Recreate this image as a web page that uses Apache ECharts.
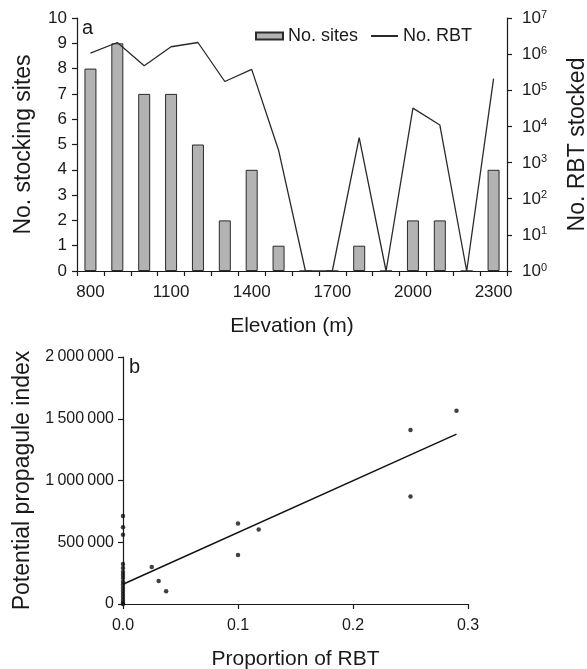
<!DOCTYPE html>
<html>
<head>
<meta charset="utf-8">
<script src="https://cdn.jsdelivr.net/npm/echarts@6/dist/echarts.min.js"></script>
<style>
  html, body { margin: 0; padding: 0; background: #fff; }
  #chart { width: 587px; height: 669px; }
</style>
</head>
<body>
<div id="chart"></div>
<script>
// panel a: stocking by elevation
var elevations = ['800', '900', '1000', '1100', '1200', '1300', '1400', '1500',
                  '1600', '1700', '1800', '1900', '2000', '2100', '2200', '2300'];
var noSites = [8, 9, 7, 7, 5, 2, 4, 1, 0, 0, 1, 0, 2, 2, 0, 4];
// RBT stocked (log axis, zero stocking drawn at 10^0)
var noRBT = [1070000, 2100000, 480000, 1600000, 2100000, 175000, 380000, 2200,
             1, 1, 4900, 1, 32000, 11000, 1, 210000];

// panel b: propagule index vs proportion of RBT
var propRBT = [0, 0, 0, 0, 0, 0, 0, 0, 0, 0, 0, 0, 0, 0, 0, 0, 0,
               0.025, 0.031, 0.0375, 0.1, 0.1, 0.118, 0.25, 0.25, 0.29];
var propIndex = [713000, 622000, 560000, 324000, 292000, 260000, 235000, 210000, 180000,
                 155000, 130000, 105000, 80000, 57000, 32000, 10000, 0,
                 300000, 186000, 103000, 651000, 397000, 603000, 1408000, 870000, 1565000];
var fitX = [0, 0.29];
var fitY = [160000, 1376000];

var font = "'Liberation Sans', Arial, sans-serif";
var ink = '#1a1a1a';

var chart = echarts.init(document.getElementById('chart'));

function axisBase(extra) {
  var base = {
    axisLine: { show: true, lineStyle: { color: ink, width: 1.2 } },
    axisTick: { show: true, inside: false, length: 5, lineStyle: { color: ink, width: 1.2 } },
    axisLabel: { color: ink, fontSize: 17, fontFamily: font, margin: 10 },
    splitLine: { show: false },
    nameTextStyle: { color: ink, fontSize: 23, fontFamily: font }
  };
  return Object.assign(base, extra);
}

var option = {
  animation: false,
  backgroundColor: '#fff',
  textStyle: { fontFamily: font },
  grid: [
    { left: 77, right: 80, top: 18, bottom: 398, outerBoundsMode: 'none' },
    { left: 123, right: 119, top: 357, bottom: 65, outerBoundsMode: 'none' }
  ],
  legend: {
    data: [
      { name: 'No. sites', icon: 'rect' },
      { name: 'No. RBT', itemStyle: { opacity: 0 } }
    ],
    left: 250,
    top: 22,
    itemWidth: 27,
    itemHeight: 7,
    itemGap: 12,
    textStyle: { color: ink, fontSize: 18, fontFamily: font }
  },
  xAxis: [
    axisBase({
      type: 'category',
      gridIndex: 0,
      data: elevations,
      boundaryGap: true,
      axisTick: { show: true, inside: false, length: 5, interval: 0, lineStyle: { color: ink, width: 1.2 } },
      axisLabel: { color: ink, fontSize: 17, fontFamily: font, margin: 13, interval: 2 },
      name: 'Elevation (m)',
      nameLocation: 'middle',
      nameGap: 45,
      nameTextStyle: { color: ink, fontSize: 21, fontFamily: font }
    }),
    axisBase({
      type: 'value',
      gridIndex: 1,
      min: 0,
      max: 0.3,
      interval: 0.1,
      axisLabel: { color: ink, fontSize: 16, fontFamily: font, margin: 14,
        formatter: function (v) { return v.toFixed(1); } },
      name: 'Proportion of RBT',
      nameLocation: 'middle',
      nameGap: 45,
      nameTextStyle: { color: ink, fontSize: 21, fontFamily: font }
    })
  ],
  yAxis: [
    axisBase({
      type: 'value',
      gridIndex: 0,
      position: 'left',
      min: 0,
      max: 10,
      interval: 1,
      name: 'No. stocking sites',
      nameLocation: 'middle',
      nameRotate: 90,
      nameGap: 42
    }),
    axisBase({
      type: 'log',
      gridIndex: 0,
      position: 'right',
      logBase: 10,
      min: 1,
      max: 10000000,
      splitNumber: 7,
      axisLabel: {
        color: ink, fontSize: 17, fontFamily: font, margin: 15,
        formatter: function (v) {
          return '{b|10}{s|' + Math.round(Math.log10(v)) + '}';
        },
        rich: {
          b: { fontSize: 17, fontFamily: font, color: ink, lineHeight: 18, verticalAlign: 'bottom' },
          s: { fontSize: 11, fontFamily: font, color: ink, lineHeight: 18, verticalAlign: 'top', padding: [0, 0, 8, 0] }
        }
      },
      name: 'No. RBT stocked',
      nameLocation: 'middle',
      nameRotate: 90,
      nameGap: 59
    }),
    axisBase({
      type: 'value',
      gridIndex: 1,
      min: 0,
      max: 2000000,
      interval: 500000,
      axisLabel: { color: ink, fontSize: 16, fontFamily: font, margin: 9,
        formatter: function (v) {
          return String(v).replace(/\B(?=(\d{3})+(?!\d))/g, '\u2009');
        } },
      name: 'Potential propagule index',
      nameLocation: 'middle',
      nameRotate: 90,
      nameGap: 88
    })
  ],
  graphic: [
    { type: 'text', left: 82, top: 18, style: { text: 'a', fontSize: 20, fontFamily: font, fill: ink } },
    { type: 'text', left: 129, top: 357, style: { text: 'b', fontSize: 20, fontFamily: font, fill: ink } }
  ],
  series: [
    {
      name: 'No. sites',
      type: 'bar',
      xAxisIndex: 0,
      yAxisIndex: 0,
      data: noSites,
      barWidth: 12,
      itemStyle: { color: '#b3b3b3', borderColor: '#2a2a2a', borderWidth: 1 }
    },
    {
      name: 'No. RBT',
      type: 'line',
      xAxisIndex: 0,
      yAxisIndex: 1,
      data: noRBT,
      symbol: 'none',
      itemStyle: { color: '#2a2a2a' },
      lineStyle: { color: '#2a2a2a', width: 1.3 }
    },
    {
      type: 'scatter',
      xAxisIndex: 1,
      yAxisIndex: 2,
      data: propRBT.map(function (x, i) { return [x, propIndex[i]]; }),
      symbolSize: 4.5,
      itemStyle: { color: '#111' }
    },
    {
      type: 'line',
      xAxisIndex: 1,
      yAxisIndex: 2,
      data: fitX.map(function (x, i) { return [x, fitY[i]]; }),
      symbol: 'none',
      lineStyle: { color: '#111', width: 1.4 }
    }
  ]
};

chart.setOption(option);
</script>
</body>
</html>
